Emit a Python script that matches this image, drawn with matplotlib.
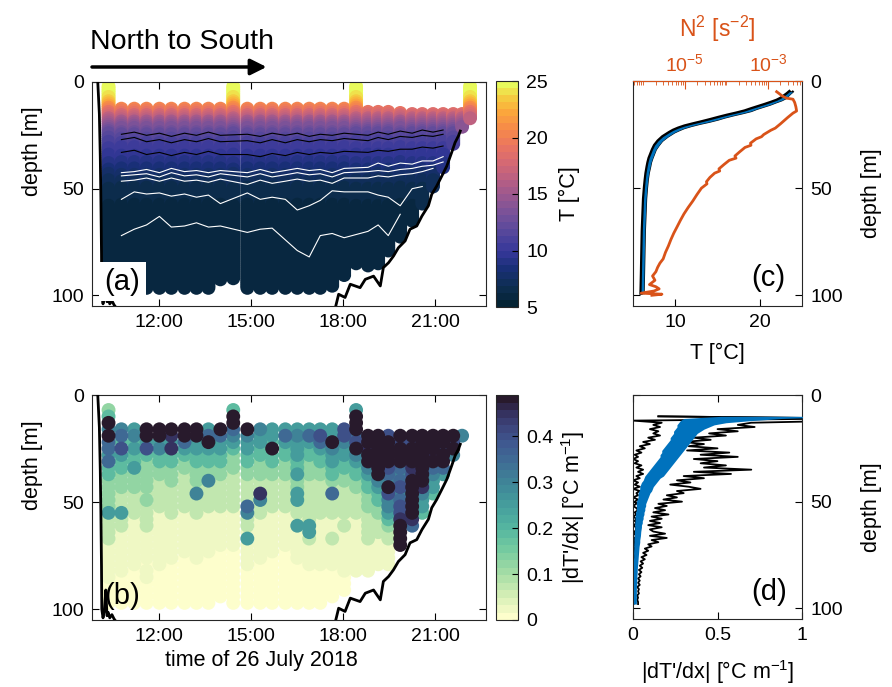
import numpy as np
import matplotlib
matplotlib.use('Agg')
import matplotlib.pyplot as plt
from matplotlib.colors import LinearSegmentedColormap
import matplotlib.ticker as mticker

plt.rcParams['font.family'] = ['Liberation Sans', 'DejaVu Sans']
plt.rcParams['mathtext.fontset'] = 'custom'
plt.rcParams['mathtext.rm'] = 'Liberation Sans'
plt.rcParams['mathtext.it'] = 'Liberation Sans:italic'
plt.rcParams['mathtext.bf'] = 'Liberation Sans:bold'

# ---------------- data ----------------
# cast times (hours of 26 July 2018); ctd = full-surface casts
cast_time = [10.34, 10.76, 11.18, 11.58, 12.00, 12.39, 12.82, 13.21, 13.60, 13.99,
             14.41, 14.87, 15.29, 15.68, 16.11, 16.50, 16.89, 17.25, 17.64, 18.03,
             18.42, 18.81, 19.14, 19.47, 19.86, 20.25, 20.58, 20.93, 21.26, 21.59,
             21.88, 22.14]
cast_is_ctd = [1, 0, 0, 0, 0, 0, 0, 0, 0, 0,
               1, 0, 0, 0, 0, 0, 0, 0, 0, 0,
               1, 0, 0, 0, 0, 0, 0, 0, 0, 0,
               0, 1]
cast_top = [2, 12.5, 12.5, 12.5, 12.5, 12.5, 12.5, 12.5, 12.5, 12.5,
            2, 12.5, 12.5, 12.5, 12.5, 12.5, 12.5, 12.5, 12.5, 12.5,
            2, 14, 14, 14, 14.5, 15, 15, 15, 15, 15,
            15, 2]
cast_bottom = [97, 97, 97, 97, 97, 97, 97, 97, 97, 93,
               92, 97, 97, 97, 97, 97, 97, 97, 96, 91,
               85, 86.5, 85, 79, 72.5, 65, 57, 49, 40, 29,
               21, 17]

# temperature along the section (panel a colours)
sec_depth = [2, 5, 8, 10, 12, 14, 16, 18, 20, 22, 24, 27, 30, 33, 36, 39, 42, 45,
             48, 52, 56, 60, 70, 80, 100]
sec_T = [25.0, 24.6, 24.0, 23.0, 21.0, 19.2, 17.5, 15.9, 14.6, 13.4, 12.4, 11.4,
         10.7, 10.1, 9.6, 9.0, 8.3, 7.6, 7.0, 6.6, 6.3, 6.1, 6.0, 5.9, 5.8]

# mean temperature profile (panel c)
prof_depth = [5, 6, 7, 8, 9, 10, 11, 12, 13, 14, 15, 16, 17, 18, 19, 20, 21, 22,
              23, 24, 25, 26, 28, 30, 32, 34, 36, 38, 40, 43, 46, 50, 55, 60, 65, 70,
              80, 90, 99]
T_mean = [23.7, 23.4, 23.1, 22.8, 22.3, 21.6, 20.9, 20.1, 19.3, 18.6, 17.6,
          16.5, 15.5, 14.6, 13.6, 12.5, 11.5, 10.7, 10.1, 9.6, 9.2, 8.8, 8.2, 7.8, 7.5,
          7.3, 7.1, 6.95, 6.85, 6.7, 6.6, 6.5, 6.4, 6.35, 6.3, 6.25, 6.2, 6.15, 6.1]
T_spread = [0.2, 0.2, 0.25, 0.3, 0.3, 0.3, 0.35, 0.35, 0.35, 0.4, 0.4, 0.4,
            0.4, 0.45, 0.45, 0.4, 0.4, 0.35, 0.35, 0.3, 0.3, 0.3, 0.25, 0.25, 0.2, 0.2,
            0.2, 0.18, 0.18, 0.16, 0.15, 0.15, 0.15, 0.15, 0.15, 0.15, 0.15, 0.15, 0.15]

# buoyancy frequency squared (panel c, top axis)
n2_depth = [5, 6, 7, 8, 8.5, 10, 12, 14, 15, 17, 20, 22, 23, 25, 26, 27, 29, 30, 31,
            33, 35, 36, 37, 39, 41, 42, 43, 45, 47, 48, 50, 53, 56, 59, 62, 65, 68, 71,
            74, 77, 80, 83, 85, 87, 89, 91, 93, 95, 96, 97, 98, 99, 99.5, 100]
n2_value = [1.62e-3, 1.9e-3, 2.2e-3, 2.8e-3, 4.0e-3, 4.4e-3, 4.7e-3, 4.9e-3, 4.0e-3,
            3.0e-3, 2.0e-3, 1.5e-3, 1.17e-3, 7.9e-4, 7.0e-4, 5.2e-4, 3.8e-4, 3.9e-4,
            2.8e-4, 2.1e-4, 1.6e-4, 1.7e-4, 1.17e-4, 8.7e-5, 6.6e-5, 6.9e-5, 5.2e-5,
            4.0e-5, 3.3e-5, 3.4e-5, 2.5e-5, 1.95e-5, 1.55e-5, 1.2e-5, 9.5e-6, 7.8e-6,
            6.5e-6, 5.4e-6, 4.6e-6, 4.0e-6, 3.4e-6, 3.0e-6, 2.5e-6, 2.2e-6, 2.0e-6,
            1.66e-6, 1.9e-6, 1.4e-6, 2.0e-6, 2.4e-6, 1.8e-6, 8.9e-7, 2.8e-6, 1.6e-6]

# isotherm lines (depth at each profiler cast, first casts)
iso_black = [
    [24.5, 23.5, 25.0, 24.0, 25.5, 24.0, 25.0, 23.5, 25.0, 24.5, 25.5, 24.0, 25.0,
     24.0, 25.5, 24.5, 25.0, 24.0, 25.0, 23.5, 24.5, 23.0, 24.0, 22.5, 23.5, 22.5],
    [27.0, 26.0, 28.0, 27.0, 28.5, 27.0, 28.0, 26.5, 28.0, 27.5, 28.5, 27.0, 28.5,
     27.0, 28.0, 27.0, 27.5, 26.5, 27.5, 26.0, 27.0, 25.5, 26.0, 25.0, 25.5, 24.5],
    [33.0, 32.0, 34.0, 33.0, 34.5, 33.0, 34.0, 32.5, 34.0, 34.0, 35.0, 33.5, 34.5,
     33.0, 34.0, 33.0, 33.5, 32.5, 33.0, 32.0, 32.5, 31.5, 31.5, 30.5, 31.0, 30.0],
]
iso_white = [
    [42.5, 42.0, 41.0, 42.5, 40.5, 42.0, 41.5, 42.5, 41.5, 42.5, 41.0, 42.5, 41.5,
     40.5, 41.5, 41.0, 42.5, 40.5, 40.0, 38.0, 39.5, 38.0, 38.5, 37.0, 37.0, 35.0],
    [44.0, 43.5, 43.0, 44.5, 42.5, 44.0, 43.5, 44.5, 43.0, 44.5, 43.0, 44.5, 43.5,
     42.5, 43.5, 43.0, 44.5, 42.5, 42.0, 41.5, 42.0, 41.0, 40.5, 39.5, 39.0, 37.5],
    [46.5, 46.0, 45.0, 46.5, 45.0, 46.5, 46.0, 47.0, 45.5, 48.0, 46.0, 47.5, 46.5,
     45.5, 46.5, 46.0, 47.5, 45.0, 45.0, 44.0, 44.5, 43.5, 43.0, 42.0, 40.5],
    [55.0, 51.5, 52.5, 52.0, 53.5, 52.5, 54.0, 53.0, 57.0, 52.0, 55.0, 54.0, 55.0,
     60.0, 58.0, 55.5, 51.0, 51.5, 51.5, 53.0, 54.0, 58.0, 50.0, 49.0],
    [72.0, 69.0, 67.0, 63.0, 68.0, 67.5, 66.0, 68.0, 67.5, 70.5, 69.0, 68.5, 74.0,
     79.0, 82.0, 72.0, 71.0, 73.0, 70.0, 67.0, 72.0, 62.0],
]

# bottom depth along the track
bathy_time = [9.99, 10.04, 10.07, 10.09, 10.11, 10.12, 10.16, 10.21, 10.25, 10.29,
              10.33, 10.38, 10.45, 10.52, 10.60, 17.74, 17.85, 18.06, 18.23, 18.55,
              18.72, 18.99, 19.21, 19.31, 19.48, 19.64, 19.80, 20.02, 20.18, 20.40,
              20.57, 20.78, 20.89, 21.05, 21.22, 21.38, 21.54, 21.65, 21.76, 21.82]
bathy_depth = [0.5, 15, 35, 55, 80, 100, 104, 100, 91, 103, 101.5, 104, 102.5, 104.5,
               106, 106, 99.5, 101, 94.8, 96.4, 92.5, 91, 95.6, 87, 84.7, 81.6, 77.7,
               74.5, 69, 67.5, 62.8, 58, 52.6, 48.8, 44, 39.4, 33, 28.4, 25.3, 23]

# |dT'/dx| per cast, sampled every 3 m from 1 m; each digit is a class, X = saturated
grad_depth_start = 1
grad_depth_step = 3
grad_levels = [
    "--34X 6X775 74433 33352 22211 11110 000-",
    "----- 67485 44333 22252 21111 11100 000-",
    "----- 56454 45333 22221 11111 11000 000-",
    "----- XX584 33333 23222 21111 10110 000-",
    "----- XX564 43322 22211 11111 11000 000-",
    "----- X9594 43332 22221 11111 10000 000-",
    "----- XX754 33222 22211 11111 00000 000-",
    "----- XX554 43332 62221 11111 10000 000-",
    "----- 57X54 43362 22211 11111 00000 000-",
    "----- X7554 43322 22211 11110 00000 00--",
    "--4XX 76543 33222 22211 11110 00000 000-",
    "----- X6554 43322 22762 21511 11000 000-",
    "----- 65544 33322 96221 11111 10000 000-",
    "----- 554X4 43322 22211 11111 00000 000-",
    "----- 57544 33322 22211 11110 00000 000-",
    "----- 56555 44533 55221 51111 10000 000-",
    "----- 57544 33322 22222 55211 11000 000-",
    "----- 58754 43322 22221 11111 11000 000-",
    "----- 55X65 54432 72221 11211 11000 00--",
    "----- 88655 44332 22221 21111 11100 0---",
    "--5XX X78X6 54433 22221 11111 111-- ----",
    "----- -XX9X X6544 33322 22211 111-- ----",
    "----- -XXXX XXX65 44332 22111 11--- ----",
    "----- -8XXX X876X 86654 32211 11--- ----",
    "----- -X8XX X7678 67889 XXXX- ----- ----",
    "----- -X8XX X98XX XXXX9 7---- ----- ----",
    "----- -XXXX XXXX9 6554- ----- ----- ----",
    "----- -XXX9 X7655 4---- ----- ----- ----",
    "----- -XX8X X75-- ----- ----- ----- ----",
    "----- -X8X6 ----- ----- ----- ----- ----",
    "----- -6--- ----- ----- ----- ----- ----",
    "----- ----- ----- ----- ----- ----- ----",
]
grad_class_value = [0.0, 0.02, 0.07, 0.13, 0.19, 0.25, 0.30, 0.35, 0.40, 0.45]
grad_saturated = 0.6

# panel d profiles (1 m grid from 10 m)
d_start, d_end = 10, 98
grad_hi = [0.15, 1.3, 1.3, 0.70, 0.62, 0.72, 0.50, 0.62, 0.45, 0.55,
           0.36, 0.46, 0.30, 0.42, 0.33, 0.50, 0.32, 0.57, 0.40, 0.62,
           0.36, 0.50, 0.40, 0.55, 0.42, 0.70, 0.36, 0.58, 0.30, 0.42,
           0.26, 0.34, 0.22, 0.33, 0.40, 0.26, 0.30, 0.20, 0.26, 0.18,
           0.29, 0.15, 0.20, 0.13, 0.19, 0.12, 0.21, 0.11, 0.17, 0.10,
           0.16, 0.09, 0.17, 0.10, 0.12, 0.19, 0.10, 0.20, 0.11, 0.15,
           0.09, 0.11, 0.07, 0.09, 0.06, 0.08, 0.05, 0.07, 0.045, 0.06,
           0.04, 0.055, 0.035, 0.05, 0.035, 0.045, 0.03, 0.04, 0.03, 0.04,
           0.025, 0.035, 0.03, 0.035, 0.025, 0.03, 0.025, 0.03, 0.03]
grad_lo = [0.15, 1.3, 0.00, 0.17, 0.12, 0.16, 0.10, 0.15, 0.12, 0.16,
           0.09, 0.13, 0.06, 0.10, 0.04, 0.07, 0.02, 0.05, 0.01, 0.03,
           0.00, 0.03, 0.01, 0.05, 0.02, 0.06, 0.03, 0.06, 0.02, 0.04,
           0.00, 0.03, 0.01, 0.04, 0.00, 0.04, 0.02, 0.03, 0.00, 0.03,
           0.01, 0.02, 0.00, 0.02, 0.03, 0.01, 0.02, 0.00, 0.02, 0.01,
           0.02, 0.005, 0.015, 0.02, 0.01, 0.005, 0.02, 0.01, 0.005, 0.01,
           0.01, 0.005, 0.008, 0.01, 0.005, 0.006, 0.008, 0.005, 0.006, 0.005,
           0.005, 0.004, 0.004, 0.005, 0.004, 0.004, 0.004, 0.004, 0.004, 0.003,
           0.003, 0.003, 0.003, 0.003, 0.003, 0.003, 0.003, 0.003, 0.003]
grad_band_lo = [0.52, 0.30, 0.28, 0.27, 0.26, 0.26, 0.25, 0.24, 0.24, 0.23,
                0.22, 0.22, 0.21, 0.20, 0.19, 0.18, 0.17, 0.17, 0.16, 0.16,
                0.15, 0.14, 0.13, 0.12, 0.11, 0.10, 0.09, 0.08, 0.07, 0.065,
                0.06, 0.05, 0.045, 0.04, 0.04, 0.035, 0.03, 0.03, 0.03, 0.025,
                0.02, 0.02, 0.02, 0.02, 0.02, 0.015, 0.015, 0.012, 0.012, 0.012,
                0.01, 0.01, 0.01, 0.01, 0.008, 0.008, 0.008, 0.006, 0.006, 0.006,
                0.005, 0.005, 0.005, 0.004, 0.004, 0.004, 0.004, 0.003, 0.003, 0.003,
                0.003, 0.003, 0.003, 0.003, 0.003, 0.003, 0.003, 0.003, 0.003, 0.003,
                0.003, 0.003, 0.003, 0.003, 0.003, 0.003, 0.003, 0.003, 0.003]
grad_band_hi = [1.3, 0.88, 0.70, 0.55, 0.48, 0.45, 0.42, 0.40, 0.38, 0.37,
                0.36, 0.35, 0.34, 0.33, 0.32, 0.31, 0.30, 0.29, 0.28, 0.27,
                0.26, 0.25, 0.24, 0.23, 0.22, 0.21, 0.20, 0.19, 0.18, 0.16,
                0.15, 0.14, 0.13, 0.12, 0.115, 0.11, 0.10, 0.095, 0.09, 0.085,
                0.08, 0.075, 0.075, 0.07, 0.07, 0.065, 0.065, 0.06, 0.06, 0.055,
                0.055, 0.05, 0.05, 0.048, 0.046, 0.045, 0.044, 0.042, 0.04, 0.04,
                0.038, 0.036, 0.035, 0.034, 0.033, 0.032, 0.031, 0.03, 0.029, 0.028,
                0.027, 0.026, 0.025, 0.025, 0.024, 0.023, 0.023, 0.022, 0.022, 0.021,
                0.02, 0.02, 0.02, 0.02, 0.02, 0.02, 0.02, 0.02, 0.02]

time_ticks = [12, 15, 18, 21]
time_ticklabels = ['12:00', '15:00', '18:00', '21:00']

# ---------------- styles ----------------
thermal = LinearSegmentedColormap.from_list('thermal', [
    (0.00, '#042333'), (0.08, '#0e2e52'), (0.16, '#192f76'), (0.24, '#36389a'),
    (0.32, '#55479b'), (0.40, '#74519a'), (0.48, '#955791'), (0.56, '#b65e84'),
    (0.64, '#d46874'), (0.72, '#ea7560'), (0.80, '#f78b48'), (0.88, '#fbaa3b'),
    (0.94, '#f5cd40'), (1.00, '#e8fa5b')], N=32)
deep_r = LinearSegmentedColormap.from_list('deep_r', [
    (0.00, '#fdfecc'), (0.10, '#d3eeb5'), (0.20, '#a4dca5'), (0.30, '#78cca0'),
    (0.40, '#56b7a0'), (0.50, '#46a09d'), (0.60, '#3f8898'), (0.70, '#3f6f95'),
    (0.80, '#3f5790'), (0.88, '#3c4379'), (0.94, '#342f5c'), (1.00, '#281a2c')], N=30)

BLUE = '#0072BD'
ORANGE = '#D95319'
SPINE = '#262626'
TICK_FS = 14
LABEL_FS = 15.5
MS = 100

W, H = 892, 687
fig = plt.figure(figsize=(W / 100, H / 100), dpi=100)


def rect(x0, y0, x1, y1):
    return [x0 / W, 1 - y1 / H, (x1 - x0) / W, (y1 - y0) / H]


ax_a = fig.add_axes(rect(92, 82, 486, 306))
ax_b = fig.add_axes(rect(92, 395, 486, 620))
cax_a = fig.add_axes(rect(496, 81, 518, 307))
cax_b = fig.add_axes(rect(496, 395, 518, 620))
ax_c = fig.add_axes(rect(633, 81, 802, 306))
ax_d = fig.add_axes(rect(633, 395, 802, 619))

# ---------------- panel a ----------------
pa_t, pa_d, pa_T = [], [], []
for t, top, bot in zip(cast_time, cast_top, cast_bottom):
    dd = np.arange(top, bot + 0.01, 1.0)
    pa_t.extend([t] * len(dd))
    pa_d.extend(dd)
    pa_T.extend(np.interp(dd, sec_depth, sec_T))
sc_a = ax_a.scatter(pa_t, pa_d, c=pa_T, cmap=thermal, vmin=5, vmax=25, s=MS,
                    edgecolors='none', zorder=2)
iso_time = [t for t, c in zip(cast_time, cast_is_ctd) if c == 0]
for line in iso_black:
    ax_a.plot(iso_time[:len(line)], line, color='k', lw=0.8, zorder=3)
for line in iso_white:
    ax_a.plot(iso_time[:len(line)], line, color='white', lw=0.8, zorder=3)

# ---------------- panel b ----------------
pb_t, pb_d, pb_v = [], [], []
for t, s in zip(cast_time, grad_levels):
    s = s.replace(' ', '')
    for k, ch in enumerate(s):
        if ch == '-':
            continue
        pb_t.append(t)
        pb_d.append(grad_depth_start + grad_depth_step * k)
        pb_v.append(grad_saturated if ch == 'X' else grad_class_value[int(ch)])
order = np.argsort(pb_v, kind='stable')
sc_b = ax_b.scatter(np.array(pb_t)[order], np.array(pb_d)[order], c=np.array(pb_v)[order],
                    cmap=deep_r, vmin=0, vmax=0.49, s=MS, edgecolors='none', zorder=2)

for ax in (ax_a, ax_b):
    ax.plot(bathy_time, bathy_depth, color='k', lw=2, zorder=4)
    ax.set_xlim(9.8, 22.66)
    ax.set_ylim(105, 0)
    ax.set_xticks(time_ticks)
    ax.set_xticklabels(time_ticklabels)
    ax.set_yticks([0, 50, 100])
    ax.tick_params(direction='in', top=True, right=True, length=5, width=0.8,
                   labelsize=TICK_FS, pad=6, colors='k')
    for sp in ax.spines.values():
        sp.set_linewidth(0.8)
        sp.set_color(SPINE)
    ax.set_ylabel('depth [m]', fontsize=LABEL_FS)
    ax.yaxis.set_label_coords(-0.125, 0.69)

ax_b.set_xlabel('time of 26 July 2018', fontsize=LABEL_FS)
ax_b.xaxis.set_label_coords(0.43, -0.135)

ax_a.text(0.032, 0.045, '(a)', transform=ax_a.transAxes, fontsize=21, va='bottom',
          ha='left', zorder=6,
          bbox=dict(facecolor='white', edgecolor='none', pad=4))
ax_b.text(0.032, 0.045, '(b)', transform=ax_b.transAxes, fontsize=21, va='bottom',
          ha='left', zorder=6)

ax_a.annotate('', xy=(0.443, 1.067), xytext=(0.0, 1.067), xycoords='axes fraction',
              arrowprops=dict(arrowstyle='-|>', lw=2.5, color='k', mutation_scale=24,
                              shrinkA=0, shrinkB=0), annotation_clip=False)
ax_a.text(-0.005, 1.18, 'North to South', transform=ax_a.transAxes, fontsize=20.5,
          va='center', ha='left')

# colorbars
cb_a = fig.colorbar(sc_a, cax=cax_a, ticks=[5, 10, 15, 20, 25])
cb_b = fig.colorbar(sc_b, cax=cax_b, ticks=[0, 0.1, 0.2, 0.3, 0.4])
cb_b.ax.set_yticklabels(['0', '0.1', '0.2', '0.3', '0.4'])
cb_a.set_label('T [°C]', fontsize=LABEL_FS)
cb_b.set_label("|dT'/dx| [°C m$^{-1}$]", fontsize=LABEL_FS)
for cb in (cb_a, cb_b):
    cb.ax.tick_params(direction='in', length=4, width=0.8, labelsize=TICK_FS, pad=6)
    cb.outline.set_linewidth(0.8)
    cb.outline.set_edgecolor(SPINE)
    cb.ax.yaxis.set_label_coords(2.85, 0.5)

# ---------------- panel c ----------------
pd_ = np.array(prof_depth, dtype=float)
Tm = np.array(T_mean)
Ts = np.array(T_spread)
ax_c.plot(Tm - Ts, pd_, color='k', lw=2.4, zorder=2)
ax_c.plot(Tm + Ts, pd_, color='k', lw=1.6, zorder=2)
ax_c.fill_betweenx(pd_, Tm - Ts, Tm + Ts, color=BLUE, lw=0, zorder=3)
ax_c.set_xlim(5, 25)
ax_c.set_ylim(105, 0)
ax_c.set_xticks([10, 20])
ax_c.set_yticks([0, 50, 100])
ax_c.set_xlabel('T [°C]', fontsize=LABEL_FS)
ax_c.xaxis.set_label_coords(0.5, -0.165)
ax_c.text(0.70, 0.06, '(c)', transform=ax_c.transAxes, fontsize=21, va='bottom',
          ha='left', zorder=6)

ax_n = ax_c.twiny()
ax_n.plot(n2_value, n2_depth, color=ORANGE, lw=2, zorder=4)
ax_n.set_xscale('log')
ax_n.set_xlim(10 ** -6.25, 10 ** -2.18)
ax_n.set_ylim(105, 0)
ax_n.xaxis.set_major_locator(mticker.FixedLocator([1e-5, 1e-3]))
ax_n.xaxis.set_major_formatter(mticker.FixedFormatter(['$10^{-5}$', '$10^{-3}$']))
ax_n.xaxis.set_minor_locator(mticker.LogLocator(base=10, subs=np.arange(1, 10),
                                                 numticks=30))
ax_n.xaxis.set_minor_formatter(mticker.NullFormatter())
ax_n.tick_params(axis='x', which='both', direction='in', colors=ORANGE,
                 labelsize=TICK_FS, pad=4)
ax_n.tick_params(axis='x', which='major', length=6, width=0.8)
ax_n.tick_params(axis='x', which='minor', length=3, width=0.6)
ax_n.set_xlabel('N$^2$ [s$^{-2}$]', fontsize=LABEL_FS + 1, color=ORANGE, labelpad=12)
ax_n.spines['top'].set_color(ORANGE)
ax_n.spines['top'].set_linewidth(0.8)
for k in ('bottom', 'left', 'right'):
    ax_n.spines[k].set_visible(False)

# ---------------- panel d ----------------
dgrid = np.arange(d_start, d_end + 1)
ax_d.plot(grad_lo, dgrid, color='k', lw=1.3, zorder=2)
ax_d.plot(grad_hi, dgrid, color='k', lw=1.3, zorder=2)
ax_d.fill_betweenx(dgrid, grad_band_lo, grad_band_hi, color=BLUE, lw=0, zorder=3)
ax_d.set_xlim(0, 1)
ax_d.set_ylim(105, 0)
ax_d.set_xticks([0, 0.5, 1])
ax_d.set_xticklabels(['0', '0.5', '1'])
ax_d.set_yticks([0, 50, 100])
ax_d.set_xlabel("|dT'/dx| [°C m$^{-1}$]", fontsize=LABEL_FS)
ax_d.xaxis.set_label_coords(0.5, -0.175)
ax_d.text(0.70, 0.058, '(d)', transform=ax_d.transAxes, fontsize=21, va='bottom',
          ha='left', zorder=6)

for ax in (ax_c, ax_d):
    ax.tick_params(direction='in', left=True, right=True, labelleft=False,
                   labelright=True, top=(ax is ax_d), length=5, width=0.8,
                   labelsize=TICK_FS, pad=6)
    for sp in ax.spines.values():
        sp.set_linewidth(0.8)
        sp.set_color(SPINE)
    ax.yaxis.set_label_position('right')
    ax.set_ylabel('depth [m]', fontsize=LABEL_FS)
    ax.yaxis.set_label_coords(1.35, 0.5)

fig.savefig('out.png', dpi=100)
